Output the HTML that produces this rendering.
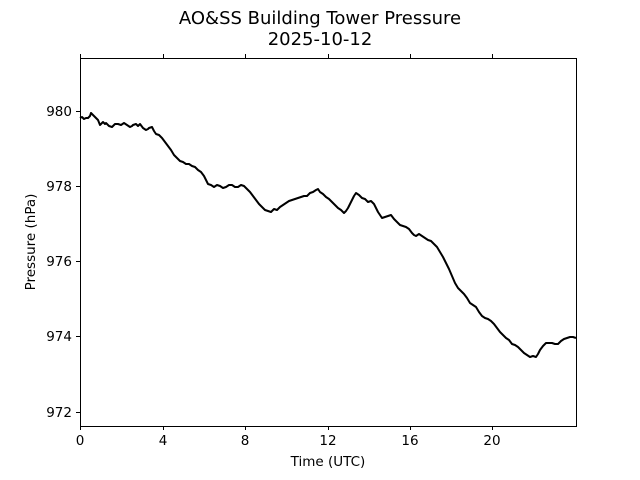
<!DOCTYPE html>
<html><head><style>body{margin:0;background:#fff}svg{display:block}text{font-family:"DejaVu Sans","Liberation Sans",sans-serif;fill:#000}</style></head>
<body>
<svg width="640" height="480" viewBox="0 0 640 480">
<rect width="640" height="480" fill="#fff"/>
<text x="320" y="24" font-size="18" text-anchor="middle">AO&amp;SS Building Tower Pressure</text>
<text x="320" y="45" font-size="18" text-anchor="middle">2025-10-12</text>
<polyline fill="none" stroke="#000" stroke-width="2" stroke-linejoin="round" points="80,118 82,117 84,119 86,118 88,118 90,116 91,113 93,115 95,117 96,118 98,120 100,125 102,123 103,122 105,124 106,123 109,126 112,127 114,125 115,124 118,124 121,125 124,123 127,125 130,127 132,126 133,125 136,124 138,126 140,124 143,128 146,130 148,129 149,128 152,127 154,131 156,134 159,135 162,138 165,142 168,146 171,150 174,155 177,158 180,161 183,162 186,164 189,164 192,166 195,167 198,170 201,172 204,176 206,180 208,184 211,185 214,187 217,185 220,186 223,188 226,187 229,185 232,185 235,187 238,187 241,185 244,186 247,189 250,192 253,196 256,200 259,204 262,207 265,210 268,211 271,212 274,209 277,210 280,207 283,205 286,203 289,201 292,200 295,199 298,198 301,197 304,196 307,196 310,193 313,192 316,190 318,189 320,192 323,194 326,197 329,199 332,202 335,205 338,208 341,210 344,213 346,211 348,208 350,204 352,200 354,196 356,193 359,195 362,198 365,199 368,202 371,201 374,204 376,208 378,212 380,215 382,218 385,217 388,216 391,215 394,219 397,222 400,225 403,226 406,227 409,229 412,233 414,235 416,236 419,234 422,236 425,238 428,240 431,241 434,244 437,247 440,252 443,257 446,263 449,269 452,276 455,283 458,288 461,291 464,294 467,298 470,303 473,305 476,307 479,312 482,316 485,318 488,319 491,321 494,324 497,328 500,332 503,335 506,338 509,340 512,344 515,345 518,347 521,350 524,353 527,355 530,357 533,356 536,357 538,354 540,350 543,346 546,343 549,343 552,343 555,344 558,344 561,341 564,339 567,338 570,337 573,337 576,338"/>
<rect x="80.5" y="58.5" width="496" height="368" fill="none" stroke="#000" stroke-width="1"/>
<g stroke="#000" stroke-width="1">
<line x1="80.5" y1="426" x2="80.5" y2="430"/><line x1="163.5" y1="426" x2="163.5" y2="430"/><line x1="245.5" y1="426" x2="245.5" y2="430"/><line x1="328.5" y1="426" x2="328.5" y2="430"/><line x1="410.5" y1="426" x2="410.5" y2="430"/><line x1="492.5" y1="426" x2="492.5" y2="430"/>
<line x1="80.5" y1="58" x2="80.5" y2="54"/><line x1="163.5" y1="58" x2="163.5" y2="54"/><line x1="245.5" y1="58" x2="245.5" y2="54"/><line x1="328.5" y1="58" x2="328.5" y2="54"/><line x1="410.5" y1="58" x2="410.5" y2="54"/><line x1="492.5" y1="58" x2="492.5" y2="54"/>
<line x1="76" y1="111.5" x2="80" y2="111.5"/><line x1="76" y1="186.5" x2="80" y2="186.5"/><line x1="76" y1="261.5" x2="80" y2="261.5"/><line x1="76" y1="336.5" x2="80" y2="336.5"/><line x1="76" y1="412.5" x2="80" y2="412.5"/>
</g>
<g font-size="13.5" text-anchor="middle">
<text x="80" y="445">0</text><text x="163" y="445">4</text><text x="245" y="445">8</text><text x="328" y="445">12</text><text x="410" y="445">16</text><text x="492" y="445">20</text>
<text x="328" y="466">Time (UTC)</text>
</g>
<g font-size="13.5" text-anchor="end">
<text x="72" y="116">980</text><text x="72" y="191">978</text><text x="72" y="266">976</text><text x="72" y="341">974</text><text x="72" y="417">972</text>
</g>
<text transform="translate(35,242) rotate(-90)" font-size="13.5" text-anchor="middle">Pressure (hPa)</text>
</svg>
</body></html>
